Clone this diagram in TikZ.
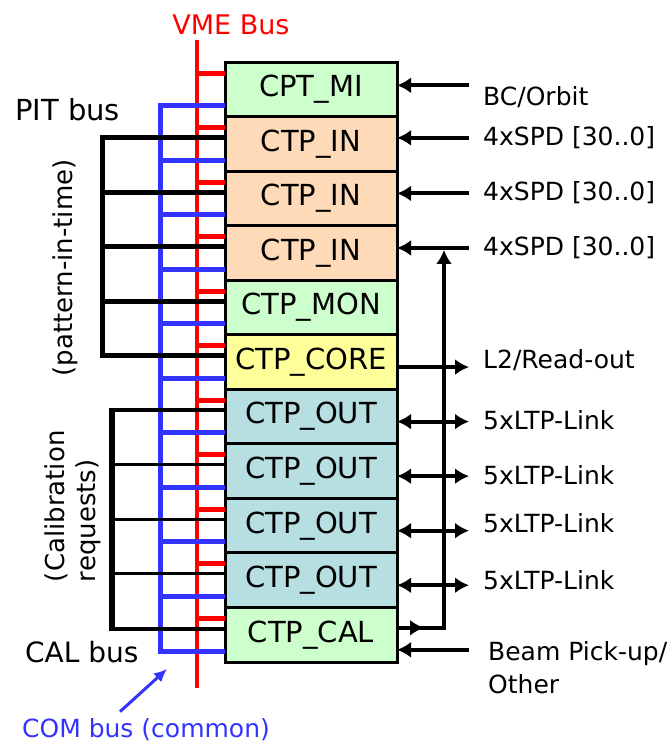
\documentclass[tikz,border=0pt]{standalone}
\usepackage{fontspec}
\setmainfont{DejaVu Sans}
\usepackage{tikz}
\usetikzlibrary{arrows.meta, calc, positioning}
\definecolor{ctpgreen}{HTML}{CCFFCC}
\definecolor{ctppeach}{HTML}{FFDAB9}
\definecolor{ctpyellow}{HTML}{FFFF99}
\definecolor{ctpteal}{HTML}{B7DFE1}
\definecolor{vmered}{HTML}{FF0000}
\definecolor{comblue}{HTML}{3333FF}

\begin{document}
\begin{tikzpicture}[x=1pt, y=-1pt,
    board/.style={draw, line width=3pt, minimum width=172pt, minimum height=54.55pt,
      inner sep=0pt, outer sep=0pt, font=\fontsize{29}{31}\selectfont},
    vme/.style={vmered, line width=5pt},
    com/.style={comblue, line width=5pt},
    pit/.style={line width=5pt},
    sigin/.style={line width=4pt, {Latex[length=14pt,width=16pt]}-},
    sigout/.style={line width=4pt, -{Latex[length=14pt,width=16pt]}},
    sigboth/.style={line width=4pt, {Latex[length=14pt,width=16pt]}-{Latex[length=14pt,width=16pt]}},
    lbl/.style={anchor=west, inner sep=0pt, align=left, font=\fontsize{25}{33}\selectfont}]
  \useasboundingbox (0,0) rectangle (667,748);

  % crate of boards
  \node[board, fill=ctpgreen] (mi) at (311,89.3) {CPT\_MI};
  \node[board, fill=ctppeach, below=0pt of mi] (in1) {CTP\_IN};
  \node[board, fill=ctppeach, below=0pt of in1] (in2) {CTP\_IN};
  \node[board, fill=ctppeach, below=0pt of in2] (in3) {CTP\_IN};
  \node[board, fill=ctpgreen, below=0pt of in3] (mon) {CTP\_MON};
  \node[board, fill=ctpyellow, below=0pt of mon] (core) {CTP\_CORE};
  \node[board, fill=ctpteal, below=0pt of core] (out1) {CTP\_OUT};
  \node[board, fill=ctpteal, below=0pt of out1] (out2) {CTP\_OUT};
  \node[board, fill=ctpteal, below=0pt of out2] (out3) {CTP\_OUT};
  \node[board, fill=ctpteal, below=0pt of out3] (out4) {CTP\_OUT};
  \node[board, fill=ctpgreen, below=0pt of out4] (cal) {CTP\_CAL};

  % VME bus
  \node[text=vmered, font=\fontsize{27}{29}\selectfont] (vmelbl) at (231,25) {VME Bus};
  \coordinate (vmetop) at (197,40);
  \coordinate (vmebot) at (197,688);
  \draw[vme, line width=3.5pt] (vmetop) -- (vmebot);
  \foreach \b in {mi,in1,in2,in3,mon,core,out1,out2,out3,out4,cal}
    \draw[vme] ($(\b.north west)+(0,11)$) -- ++(-28,0);

  % COM bus
  \draw[com] ($(mi.south west)+(0,-11)$) -| ($(cal.south west)+(-65,-11)$) -- ($(cal.south west)+(0,-11)$);
  \foreach \b in {in1,in2,in3,mon,core,out1,out2,out3,out4}
    \draw[com] ($(\b.south west)+(0,-11)$) -- ++(-65,0);

  % PIT bus
  \draw[pit] ($(in1.north west)+(0,21)$) -| ($(core.north west)+(-123,21)$) -- ($(core.north west)+(0,21)$);
  \foreach \b in {in2,in3,mon}
    \draw[pit] ($(\b.north west)+(0,21)$) -- ++(-123,0);

  % CAL bus
  \draw[line width=4pt] ($(out1.north west)+(0,21)$) -| ($(cal.north west)+(-113,21)$) -- ($(cal.north west)+(0,21)$);
  \draw[line width=6pt] ($(out1.north west)+(-113,19)$) -- ($(cal.north west)+(-113,23)$);
  \foreach \b in {out2,out3,out4}
    \draw[line width=3pt] ($(\b.north west)+(0,21)$) -- ++(-113,0);

  % left labels
  \node[lbl, font=\fontsize{29}{31}\selectfont] (pitlbl) at (15,110) {PIT bus};
  \node[rotate=90, font=\fontsize{26}{28}\selectfont] (pitnote) at (65,268) {(pattern-in-time)};
  \node[rotate=90, align=left, text width=157pt, inner sep=0pt, font=\fontsize{26}{31}\selectfont] (calnote) at (72.5,503.5) {(Calibration\\requests)};
  \node[lbl, font=\fontsize{28}{30}\selectfont] (callbl) at (25,652) {CAL bus};
  \node[text=comblue, inner sep=0pt, font=\fontsize{25}{27}\selectfont] (comlbl) at (146,730) {COM bus (common)};
  \coordinate (comtip) at (167,669);
  \draw[comblue, line width=3pt, -{Latex[length=13pt,width=12pt]}] ($(comlbl.north)+(-26,-7)$) -- (comtip);

  % external signals
  \draw[sigin] ($(mi.east)+(0,-4)$) -- ++(72,0);
  \draw[sigin] ($(in1.east)+(0,-6)$) -- ++(72,0);
  \draw[sigin] ($(in2.east)+(0,-5)$) -- ++(72,0);
  \draw[sigin] ($(in3.east)+(0,-5)$) -- ++(72,0);
  \draw[sigout] ($(core.east)+(0,5)$) -- ++(72,0);
  \foreach \b in {out1,out2,out3,out4}
    \draw[sigboth] ($(\b.east)+(0,5)$) -- ++(72,0);
  \draw[sigin] ($(cal.east)+(0,15)$) -- ++(72,0);
  \draw[sigout] ($(cal.east)+(0,-7)$) -- ++(27,0);
  \draw[sigout] ($(cal.east)+(20,-7)$) -| ($(in3.east)+(47,-3)$);

  \node[lbl] (bcorbit) at (483,97) {BC/Orbit};
  \node[lbl] (spd1) at (483,138) {4xSPD [30..0]};
  \node[lbl] (spd2) at (483,193) {4xSPD [30..0]};
  \node[lbl] (spd3) at (483,248) {4xSPD [30..0]};
  \node[lbl] (readout) at (483,360) {L2/Read-out};
  \node[lbl] (ltp1) at (483,420) {5xLTP-Link};
  \node[lbl] (ltp2) at (483,475) {5xLTP-Link};
  \node[lbl] (ltp3) at (483,523) {5xLTP-Link};
  \node[lbl] (ltp4) at (483,580) {5xLTP-Link};
  \node[lbl] (beam) at (488,668) {Beam Pick-up/\\Other};
\end{tikzpicture}
\end{document}
